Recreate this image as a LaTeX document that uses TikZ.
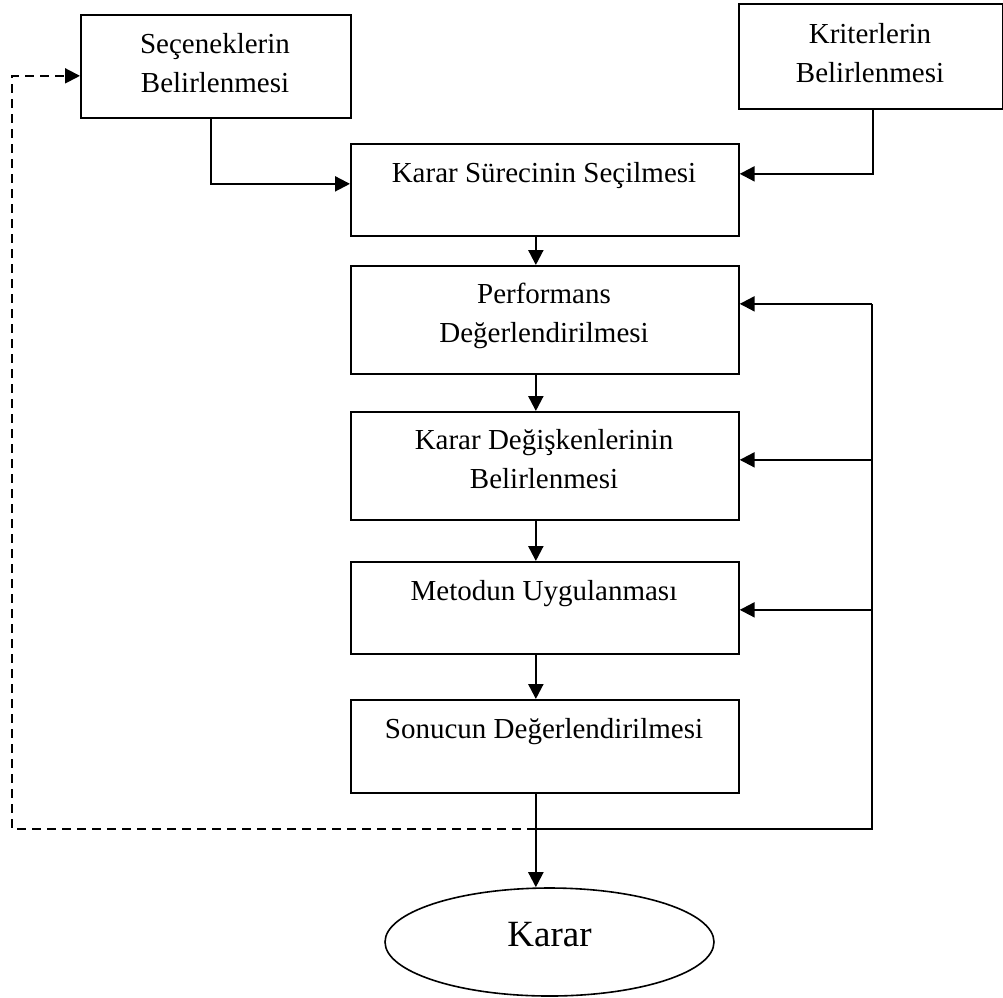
\documentclass[tikz,border=0pt]{standalone}
\usepackage{fontspec}
\setmainfont{Liberation Serif}
\usetikzlibrary{arrows.meta,shapes.geometric}
\begin{document}
\begin{tikzpicture}[x=1pt,y=-1pt,
  box/.style={draw,line width=1.7pt,inner sep=0pt,anchor=north west},
  lbl/.style={anchor=base,align=center,inner sep=0pt,font=\fontsize{29}{39}\selectfont},
  arr/.style={line width=2.2pt,-{Triangle[length=15pt,width=15pt]}},
  ln/.style={line width=2pt},
  dsh/.style={line width=2pt,dash pattern=on 9pt off 6pt}]
\useasboundingbox (0,0) rectangle (1003,997);
% boxes
\node[box,minimum width=270pt,minimum height=103pt] (sec) at (80,14) {};
\node[box,minimum width=264pt,minimum height=105pt] (kri) at (738,3) {};
\node[box,minimum width=388pt,minimum height=92pt] (sur) at (350,143) {};
\node[box,minimum width=388pt,minimum height=108pt] (per) at (350,265) {};
\node[box,minimum width=388pt,minimum height=108pt] (deg) at (350,411) {};
\node[box,minimum width=388pt,minimum height=92pt] (met) at (350,561) {};
\node[box,minimum width=388pt,minimum height=93pt] (son) at (350,699) {};
\node[draw,ellipse,line width=1.6pt,inner sep=0pt,minimum width=329pt,minimum height=108pt,
  font=\fontsize{37}{40}\selectfont,text depth=14.5pt] (ell) at (549.5,942) {Karar};
% texts (base = last line)
\node[lbl] (sect) at (215,92) {Seçeneklerin\\Belirlenmesi};
\node[lbl] (krit) at (870,82) {Kriterlerin\\Belirlenmesi};
\node[lbl] (surt) at (544,182) {Karar Sürecinin Seçilmesi};
\node[lbl] (pert) at (544,342) {Performans\\Değerlendirilmesi};
\node[lbl] (degt) at (544,488) {Karar Değişkenlerinin\\Belirlenmesi};
\node[lbl] (mett) at (544,600) {Metodun Uygulanması};
\node[lbl] (sont) at (544,738) {Sonucun Değerlendirilmesi};
% inputs to process selection
\draw[arr] ([xshift=-5pt]sec.south) |- ([yshift=6pt]sur.west);
\draw[arr] ([xshift=2pt]kri.south) |- ([yshift=16pt]sur.east);
% main chain
\draw[arr] ([xshift=-9pt]sur.south) -- ([xshift=-9pt]per.north);
\draw[arr] ([xshift=-9pt]per.south) -- ([xshift=-9pt]deg.north);
\draw[arr] ([xshift=-9pt]deg.south) -- ([xshift=-9pt]met.north);
\draw[arr] ([xshift=-9pt]met.south) -- ([xshift=-9pt]son.north);
\coordinate (a5) at ([xshift=-9pt]son.south);
\draw[arr] (a5) -- (a5 |- ell.north);
% feedback
\coordinate (fbb) at (872,829);
\coordinate (pin) at ([yshift=16pt]per.east);
\coordinate (din) at ([yshift=6pt]deg.east);
\coordinate (min) at ([yshift=-2pt]met.east);
\draw[ln] (a5 |- fbb) -- (fbb) -- (fbb |- pin);
\draw[arr] (fbb |- pin) -- (pin);
\draw[arr] (fbb |- din) -- (din);
\draw[arr] (fbb |- min) -- (min);
\coordinate (sin) at ([yshift=-9.5pt]sec.west);
\draw[dsh,-{Triangle[length=15pt,width=15pt]}] (a5 |- fbb) -| ([xshift=-68pt]sin) -- (sin);
\end{tikzpicture}
\end{document}
